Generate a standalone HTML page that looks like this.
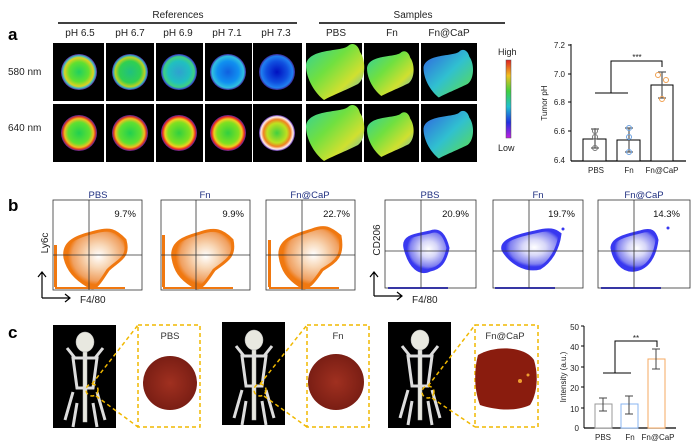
<!DOCTYPE html>
<html><head><meta charset="utf-8"><style>
html,body{margin:0;padding:0;background:#fff;}
svg{display:block;font-family:"Liberation Sans",Arial,sans-serif;}
</style></head><body>
<svg width="697" height="447" viewBox="0 0 697 447" xmlns="http://www.w3.org/2000/svg">
<defs>
<radialGradient id="r1"><stop offset="0" stop-color="#20d060"/><stop offset="0.55" stop-color="#60e030"/><stop offset="0.8" stop-color="#e0d020"/><stop offset="0.9" stop-color="#40c0c0"/><stop offset="1" stop-color="#6020a0"/></radialGradient>
<radialGradient id="r2"><stop offset="0" stop-color="#20c080"/><stop offset="0.6" stop-color="#30d050"/><stop offset="0.82" stop-color="#c0d020"/><stop offset="0.92" stop-color="#30b0c0"/><stop offset="1" stop-color="#5020a0"/></radialGradient>
<radialGradient id="r3"><stop offset="0" stop-color="#30a0d0"/><stop offset="0.6" stop-color="#20c0c0"/><stop offset="0.85" stop-color="#40d080"/><stop offset="0.95" stop-color="#3060d0"/><stop offset="1" stop-color="#402090"/></radialGradient>
<radialGradient id="r4"><stop offset="0" stop-color="#1060e0"/><stop offset="0.6" stop-color="#1090f0"/><stop offset="0.88" stop-color="#30c0e0"/><stop offset="1" stop-color="#4020a0"/></radialGradient>
<radialGradient id="r5"><stop offset="0" stop-color="#0010c0"/><stop offset="0.6" stop-color="#1050e0"/><stop offset="0.88" stop-color="#2080f0"/><stop offset="1" stop-color="#402090"/></radialGradient>
<radialGradient id="q1"><stop offset="0" stop-color="#20d050"/><stop offset="0.6" stop-color="#60e030"/><stop offset="0.8" stop-color="#f0c020"/><stop offset="0.9" stop-color="#e04020"/><stop offset="1" stop-color="#5020a0"/></radialGradient>
<radialGradient id="q2"><stop offset="0" stop-color="#30d040"/><stop offset="0.6" stop-color="#80e020"/><stop offset="0.78" stop-color="#f0d020"/><stop offset="0.9" stop-color="#f03020"/><stop offset="1" stop-color="#5020a0"/></radialGradient>
<radialGradient id="q3"><stop offset="0" stop-color="#40d040"/><stop offset="0.55" stop-color="#c0e020"/><stop offset="0.75" stop-color="#f08020"/><stop offset="0.9" stop-color="#fff0f0"/><stop offset="1" stop-color="#5020a0"/></radialGradient>
<linearGradient id="cb" x1="0" y1="0" x2="0" y2="1"><stop offset="0" stop-color="#e02020"/><stop offset="0.2" stop-color="#f0c020"/><stop offset="0.4" stop-color="#40d040"/><stop offset="0.6" stop-color="#20c0d0"/><stop offset="0.8" stop-color="#2030e0"/><stop offset="1" stop-color="#c020e0"/></linearGradient>
<radialGradient id="og" cx="0.55" cy="0.45"><stop offset="0" stop-color="#fff"/><stop offset="0.4" stop-color="#f8d8b8"/><stop offset="0.85" stop-color="#f0a060"/><stop offset="1" stop-color="#f07810"/></radialGradient>
<radialGradient id="bg" cx="0.55" cy="0.45"><stop offset="0" stop-color="#fff"/><stop offset="0.4" stop-color="#d8d8f8"/><stop offset="0.85" stop-color="#8080f0"/><stop offset="1" stop-color="#3838f0"/></radialGradient>
<radialGradient id="tum"><stop offset="0" stop-color="#a03020"/><stop offset="1" stop-color="#7a1e14"/></radialGradient>
<linearGradient id="samp" x1="0" y1="0" x2="1" y2="1"><stop offset="0" stop-color="#30d0a0"/><stop offset="0.4" stop-color="#70e040"/><stop offset="0.7" stop-color="#d0e030"/><stop offset="1" stop-color="#40b0e0"/></linearGradient>
<linearGradient id="samp2" x1="0" y1="0" x2="1" y2="1"><stop offset="0" stop-color="#3060e0"/><stop offset="0.5" stop-color="#30c0d0"/><stop offset="1" stop-color="#60e040"/></linearGradient>
<path id="blobO" d="M-30,-5 C-28,-22 5,-18 12,-24 C16,-28 22,-26 24,-18 C30,-10 30,8 22,14 C10,20 -5,26 -12,30 C-20,24 -30,10 -30,-5 Z"/>
<g id="skel" fill="#e8e8e0" stroke="#bbb" stroke-width="0.5">
<ellipse cx="32" cy="14" rx="9" ry="10"/>
<rect x="30" y="24" width="4" height="70"/>
<path d="M20,30 l24,0 l-4,30 l-16,0 z" fill="none" stroke="#ddd" stroke-width="3"/>
<path d="M22,30 l-8,-10 M42,30 l8,-10 M20,64 l-8,28 M44,64 l8,28 M24,75 l-4,24 M40,75 l4,24" stroke="#ddd" stroke-width="3"/>
</g>
</defs>

<!-- Panel a -->
<text x="8" y="40" font-size="17" font-weight="bold">a</text>
<text x="178" y="18" font-size="10" text-anchor="middle" fill="#222">References</text>
<line x1="58" y1="23" x2="297" y2="23" stroke="#000" stroke-width="1.5"/>
<text x="413" y="18" font-size="10" text-anchor="middle" fill="#222">Samples</text>
<line x1="319" y1="23" x2="505" y2="23" stroke="#000" stroke-width="1.5"/>
<g font-size="10" text-anchor="middle" fill="#222">
<text x="80" y="36">pH 6.5</text><text x="130" y="36">pH 6.7</text><text x="178" y="36">pH 6.9</text><text x="227" y="36">pH 7.1</text><text x="276" y="36">pH 7.3</text>
<text x="336" y="36">PBS</text><text x="392" y="36">Fn</text><text x="449" y="36">Fn@CaP</text>
</g>
<text x="8" y="75" font-size="10" fill="#222">580 nm</text>
<text x="8" y="131" font-size="10" fill="#222">640 nm</text>
<g>
<rect x="53" y="43" width="51" height="58" fill="#000"/><rect x="106" y="43" width="48" height="58" fill="#000"/><rect x="156" y="43" width="47" height="58" fill="#000"/><rect x="205" y="43" width="47" height="58" fill="#000"/><rect x="253" y="43" width="49" height="58" fill="#000"/>
<rect x="53" y="104" width="51" height="58" fill="#000"/><rect x="106" y="104" width="48" height="58" fill="#000"/><rect x="156" y="104" width="47" height="58" fill="#000"/><rect x="205" y="104" width="47" height="58" fill="#000"/><rect x="253" y="104" width="49" height="58" fill="#000"/>
<circle cx="79" cy="72" r="18" fill="url(#r1)"/><circle cx="130" cy="72" r="18" fill="url(#r2)"/><circle cx="179" cy="72" r="18" fill="url(#r3)"/><circle cx="228" cy="72" r="18" fill="url(#r4)"/><circle cx="277" cy="72" r="18" fill="url(#r5)"/>
<circle cx="79" cy="133" r="18" fill="url(#q1)"/><circle cx="130" cy="133" r="18" fill="url(#q1)"/><circle cx="179" cy="133" r="18" fill="url(#q2)"/><circle cx="228" cy="133" r="18" fill="url(#q2)"/><circle cx="277" cy="133" r="18" fill="url(#q3)"/>
<rect x="306" y="43" width="56" height="58" fill="#000"/><rect x="364" y="43" width="55" height="58" fill="#000"/><rect x="421" y="43" width="56" height="58" fill="#000"/>
<rect x="306" y="104" width="56" height="58" fill="#000"/><rect x="364" y="104" width="55" height="58" fill="#000"/><rect x="421" y="104" width="56" height="58" fill="#000"/>
<use href="#blobO" x="336" y="70" fill="url(#samp)"/><use href="#blobO" x="336" y="131" fill="url(#samp)"/>
<use href="#blobO" x="391" y="72" fill="url(#samp)" transform="translate(391 72) scale(0.8) translate(-391 -72)"/><use href="#blobO" x="391" y="133" fill="url(#samp)" transform="translate(391 133) scale(0.8) translate(-391 -133)"/>
<use href="#blobO" x="449" y="72" fill="url(#samp2)" transform="translate(449 72) scale(0.85) translate(-449 -72)"/><use href="#blobO" x="449" y="133" fill="url(#samp2)" transform="translate(449 133) scale(0.85) translate(-449 -133)"/>
</g>
<text x="498" y="55" font-size="9" fill="#222">High</text>
<rect x="506" y="60" width="5" height="78" fill="url(#cb)" stroke="#555" stroke-width="0.5"/>
<text x="498" y="151" font-size="9" fill="#222">Low</text>

<!-- bar chart a -->
<g font-size="8" fill="#222">
<line x1="571" y1="44" x2="571" y2="161" stroke="#000"/>
<line x1="571" y1="161" x2="686" y2="161" stroke="#000" stroke-width="1.2"/>
<g text-anchor="end"><text x="565" y="48">7.2</text><text x="565" y="77">7.0</text><text x="565" y="105">6.8</text><text x="565" y="134">6.6</text><text x="565" y="163">6.4</text></g>
<g stroke="#000"><line x1="568" y1="45" x2="571" y2="45"/><line x1="568" y1="74" x2="571" y2="74"/><line x1="568" y1="102" x2="571" y2="102"/><line x1="568" y1="131" x2="571" y2="131"/></g>
<text transform="translate(547 103) rotate(-90)" text-anchor="middle">Tumor pH</text>
<rect x="583" y="139" width="23" height="22" fill="#fff" stroke="#000"/>
<rect x="617" y="140" width="23" height="21" fill="#fff" stroke="#000"/>
<rect x="651" y="85" width="22" height="76" fill="#fff" stroke="#000"/>
<g stroke="#555" stroke-width="1.2"><line x1="595" y1="129" x2="595" y2="148"/><line x1="591" y1="129" x2="599" y2="129"/><line x1="591" y1="148" x2="599" y2="148"/>
<line x1="629" y1="128" x2="629" y2="152"/><line x1="625" y1="128" x2="633" y2="128"/><line x1="625" y1="152" x2="633" y2="152"/>
<line x1="662" y1="72" x2="662" y2="98"/><line x1="658" y1="72" x2="666" y2="72"/><line x1="658" y1="98" x2="666" y2="98"/></g>
<g fill="none" stroke="#777"><circle cx="595" cy="137" r="2.5"/><circle cx="595" cy="148" r="2.5"/><circle cx="595" cy="131" r="2.5"/></g>
<g fill="none" stroke="#6aa0e0"><circle cx="629" cy="128" r="2.5"/><circle cx="629" cy="137" r="2.5"/><circle cx="629" cy="152" r="2.5"/></g>
<g fill="none" stroke="#f0a050"><circle cx="658" cy="75" r="2.5"/><circle cx="666" cy="80" r="2.5"/><circle cx="662" cy="99" r="2.5"/></g>
<path d="M595 93 H628 M611 93 V61 H662 V67" stroke="#000" fill="none"/>
<text x="637" y="60" text-anchor="middle" font-size="8">***</text>
<text x="596" y="173" text-anchor="middle">PBS</text><text x="629" y="173" text-anchor="middle">Fn</text><text x="662" y="173" text-anchor="middle">Fn@CaP</text>
</g>

<!-- Panel b -->
<text x="8" y="211" font-size="17" font-weight="bold">b</text>
<g font-size="9.5" fill="#203080" text-anchor="middle">
<text x="98" y="198">PBS</text><text x="205" y="198">Fn</text><text x="310" y="198">Fn@CaP</text>
<text x="430" y="198">PBS</text><text x="538" y="198">Fn</text><text x="644" y="198">Fn@CaP</text>
</g>
<g font-size="9.5" fill="#111" text-anchor="end">
<text x="136" y="217">9.7%</text><text x="244" y="217">9.9%</text><text x="350" y="217">22.7%</text>
<text x="469" y="217">20.9%</text><text x="575" y="217">19.7%</text><text x="680" y="217">14.3%</text>
</g>
<!-- orange plots -->
<g>
<path d="M65,258 C62,240 80,236 95,232 C110,228 115,230 125,240 C130,258 118,260 108,270 C100,282 95,292 88,286 C75,278 68,270 65,258 Z" fill="url(#og)" stroke="#f07810" stroke-width="3"/>
<path d="M173,258 C170,240 190,236 200,233 C215,228 222,230 232,240 C236,258 224,262 214,270 C206,282 200,292 193,286 C180,278 175,270 173,258 Z" fill="url(#og)" stroke="#f07810" stroke-width="3"/>
<path d="M280,256 C278,238 300,234 312,230 C325,225 330,228 340,236 C344,258 334,262 322,270 C314,282 306,292 300,286 C288,278 282,270 280,256 Z" fill="url(#og)" stroke="#f07810" stroke-width="3"/>
<g fill="#f07810"><rect x="55" y="287" width="70" height="2"/><rect x="163" y="287" width="70" height="2"/><rect x="269" y="287" width="70" height="2"/><rect x="54" y="245" width="3" height="42"/><rect x="162" y="235" width="3" height="52"/><rect x="268" y="240" width="3" height="47"/></g>
</g>
<!-- blue plots -->
<g>
<path d="M405,248 C402,235 418,235 430,232 C440,228 445,236 448,248 C445,262 440,268 430,270 C420,275 410,268 405,248 Z" fill="url(#bg)" stroke="#3838f0" stroke-width="3"/>
<path d="M503,250 C500,240 520,235 535,232 C550,228 555,230 560,234 C558,250 550,262 540,268 C525,272 510,262 503,250 Z" fill="url(#bg)" stroke="#3838f0" stroke-width="3"/>
<path d="M612,248 C612,238 628,235 640,232 C652,228 655,232 657,240 C655,256 648,268 635,270 C622,272 614,260 612,248 Z" fill="url(#bg)" stroke="#3838f0" stroke-width="3"/>
<g fill="#3838f0"><rect x="388" y="287" width="60" height="2"/><rect x="495" y="287" width="60" height="2"/><rect x="601" y="287" width="60" height="2"/><circle cx="563" cy="229" r="1.5"/><circle cx="668" cy="228" r="1.5"/></g>
</g>
<g fill="none" stroke="#333" stroke-width="0.8">
<rect x="53" y="200" width="89" height="90"/><rect x="161" y="200" width="89" height="90"/><rect x="266" y="200" width="89" height="90"/>
<rect x="385" y="200" width="91" height="88"/><rect x="493" y="200" width="90" height="88"/><rect x="598" y="200" width="92" height="88"/>
<path d="M89 200 V290 M53 255 H142 M196 200 V290 M161 255 H250 M302 200 V290 M266 255 H355"/>
<path d="M421 200 V288 M385 251 H476 M529 200 V288 M493 251 H583 M634 200 V288 M598 251 H690"/>
</g>
<g fill="none" stroke="#000" stroke-width="1.2">
<path d="M42 298 V272 M38 277 L42 272 L46 277 M42 298 H70 M65 294 L70 298 L65 302"/>
<path d="M374 296 V272 M370 277 L374 272 L378 277 M374 296 H402 M397 292 L402 296 L397 300"/>
</g>
<text transform="translate(48 243) rotate(-90)" font-size="10" fill="#222" text-anchor="middle">Ly6c</text>
<text transform="translate(380 240) rotate(-90)" font-size="10" fill="#222" text-anchor="middle">CD206</text>
<text x="80" y="303" font-size="10" fill="#222">F4/80</text>
<text x="412" y="303" font-size="10" fill="#222">F4/80</text>

<!-- Panel c -->
<text x="8" y="338" font-size="17" font-weight="bold">c</text>
<rect x="53" y="325" width="63" height="103" fill="#000"/>
<rect x="222" y="322" width="63" height="103" fill="#000"/>
<rect x="388" y="322" width="63" height="106" fill="#000"/>
<use href="#skel" x="53" y="328"/><use href="#skel" x="222" y="326"/><use href="#skel" x="388" y="326"/>
<g fill="none" stroke="#f0b800" stroke-width="1.5" stroke-dasharray="4 3">
<rect x="138" y="325" width="62" height="102"/><rect x="307" y="325" width="62" height="102"/><rect x="475" y="325" width="63" height="102"/>
<circle cx="92" cy="390" r="6"/><circle cx="260" cy="390" r="6"/><circle cx="428" cy="392" r="6"/>
<path d="M92 384 L138 325 M96 396 L138 427 M260 384 L307 325 M264 396 L307 427 M428 386 L475 325 M432 398 L475 427"/>
</g>
<g font-size="9.5" fill="#333" text-anchor="middle"><text x="170" y="339">PBS</text><text x="338" y="339">Fn</text><text x="505" y="339">Fn@CaP</text></g>
<circle cx="170" cy="383" r="27" fill="url(#tum)"/>
<circle cx="336" cy="382" r="28" fill="url(#tum)"/>
<path d="M478,355 C495,345 525,346 534,360 C540,380 535,398 530,405 C515,412 495,410 480,405 C474,390 474,370 478,355 Z" fill="#8a1c0e"/>
<circle cx="520" cy="381" r="2" fill="#f0a030"/><circle cx="528" cy="375" r="1.5" fill="#f0a030"/>

<!-- bar chart c -->
<g font-size="8" fill="#222">
<line x1="584" y1="326" x2="584" y2="428" stroke="#000"/>
<line x1="584" y1="428" x2="676" y2="428" stroke="#000" stroke-width="1.2"/>
<g text-anchor="end"><text x="579" y="330">50</text><text x="579" y="350">40</text><text x="579" y="371">30</text><text x="579" y="391">20</text><text x="579" y="412">10</text><text x="579" y="431">0</text></g>
<g stroke="#000"><line x1="581" y1="326" x2="584" y2="326"/><line x1="581" y1="346" x2="584" y2="346"/><line x1="581" y1="367" x2="584" y2="367"/><line x1="581" y1="387" x2="584" y2="387"/><line x1="581" y1="408" x2="584" y2="408"/></g>
<text transform="translate(566 377) rotate(-90)" text-anchor="middle">Intensity (a.u.)</text>
<rect x="595" y="404" width="17" height="24" fill="#fff" stroke="#999"/>
<rect x="621" y="404" width="17" height="24" fill="#fff" stroke="#8ab4f0"/>
<rect x="648" y="359" width="17" height="69" fill="#fff" stroke="#f5a860"/>
<g stroke="#444"><path d="M603 398 V411 M599 398 H607 M599 411 H607 M629 396 V414 M625 396 H633 M625 414 H633 M656 349 V369 M652 349 H660 M652 369 H660"/></g>
<path d="M603 373 H631 M615 373 V341 H657 V347" stroke="#000" fill="none"/>
<text x="636" y="341" text-anchor="middle">**</text>
<text x="603" y="440" text-anchor="middle">PBS</text><text x="630" y="440" text-anchor="middle">Fn</text><text x="658" y="440" text-anchor="middle">Fn@CaP</text>
</g>
</svg>
</body></html>
